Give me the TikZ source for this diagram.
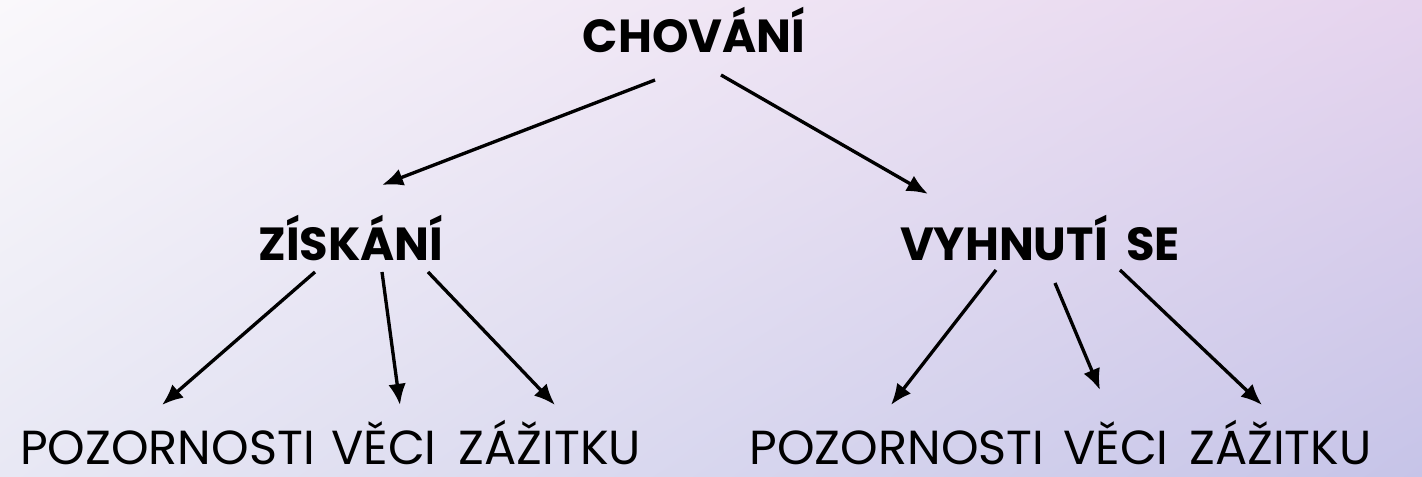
\documentclass[tikz,border=0pt]{standalone}
\usepackage{fontspec}
\setmainfont{Poppins}
\usetikzlibrary{arrows.meta,shadings}

\definecolor{bgUL}{RGB}{250,248,251}
\definecolor{bgUR}{RGB}{230,212,238}
\definecolor{bgLL}{RGB}{232,232,244}
\definecolor{bgLR}{RGB}{198,196,232}

\begin{document}
\begin{tikzpicture}[
    head/.style={font=\fontsize{13.2}{15}\selectfont\bfseries, anchor=base, inner sep=0pt},
    leaf/.style={font=\fontsize{13.6}{15}\selectfont, anchor=base, inner sep=0pt},
    arr/.style={line width=0.95pt, -{Latex[length=6pt,width=5pt]}}
  ]
    % background
    \shade[upper left=bgUL, upper right=bgUR, lower left=bgLL, lower right=bgLR]
        (0, 0) rectangle (14.22, 4.77);
    \useasboundingbox (0, 0) rectangle (14.22, 4.77);

    % top and second level
    \node[head] (chovani) at (6.94, 4.24) {CHOVÁNÍ};
    \node[head] (ziskani) at (3.51, 2.16) {ZÍSKÁNÍ};
    \node[head] (vyhnuti) at (10.40, 2.16) {VYHNUTÍ\hspace{0.4em}SE};

    % bottom level
    \node[leaf] (pozor1) at (1.675, 0.12) {POZORNOSTI};
    \node[leaf] (veci1) at (3.84, 0.12) {VĚCI};
    \node[leaf] (zazit1) at (5.50, 0.12) {ZÁŽITKU};
    \node[leaf] (pozor2) at (8.97, 0.12) {POZORNOSTI};
    \node[leaf] (veci2) at (11.16, 0.12) {VĚCI};
    \node[leaf] (zazit2) at (12.805, 0.12) {ZÁŽITKU};

    % arrows
    \draw[arr] ([shift={(-0.39,-0.27)}]chovani.base) -- ([shift={(0.31,0.76)}]ziskani.base);
    \draw[arr] ([shift={(0.27,-0.22)}]chovani.base) -- ([shift={(-1.12,0.67)}]vyhnuti.base);

    \draw[arr] ([shift={(-0.36,-0.11)}]ziskani.base) -- ([shift={(-0.055,0.60)}]pozor1.base);
    \draw[arr] ([shift={(0.31,-0.11)}]ziskani.base) -- ([shift={(0.16,0.60)}]veci1.base);
    \draw[arr] ([shift={(0.77,-0.11)}]ziskani.base) -- ([shift={(0.05,0.60)}]zazit1.base);

    \draw[arr] ([shift={(-0.44,-0.09)}]vyhnuti.base) -- ([shift={(-0.06,0.60)}]pozor2.base);
    \draw[arr] ([shift={(0.15,-0.22)}]vyhnuti.base) -- ([shift={(-0.16,0.75)}]veci2.base);
    \draw[arr] ([shift={(0.80,-0.09)}]vyhnuti.base) -- ([shift={(-0.185,0.60)}]zazit2.base);
\end{tikzpicture}
\end{document}
